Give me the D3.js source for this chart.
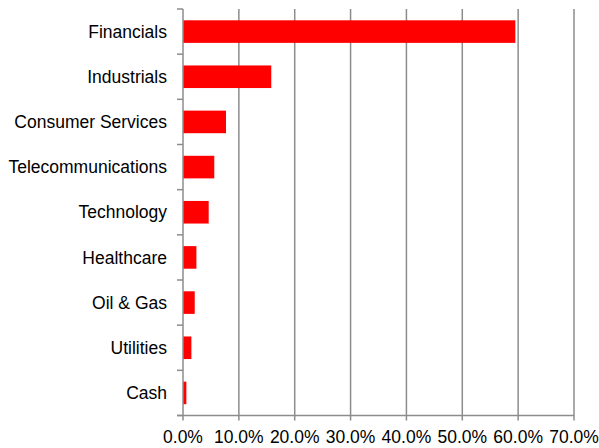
<!DOCTYPE html>
<html lang="en">
<head>
  <meta charset="utf-8">
  <title>Sector allocation</title>
  <script src="https://cdn.jsdelivr.net/npm/d3@7"></script>
  <style>
    body { margin: 0; background: #fff; }
    text { font-family: "Liberation Sans", Arial, sans-serif; fill: #000; }
  </style>
</head>
<body>
  <script>
    // data
    const sectors = ["Financials", "Industrials", "Consumer Services", "Telecommunications",
      "Technology", "Healthcare", "Oil & Gas", "Utilities", "Cash"];
    const weights = [59.5, 15.8, 7.7, 5.6, 4.6, 2.4, 2.1, 1.5, 0.6];
    const xTicks = [0, 10, 20, 30, 40, 50, 60, 70];

    const w = 599, h = 448;
    const plotLeft = 183, plotRight = 574, plotTop = 9, plotBottom = 415.5;

    const svg = d3.select("body").append("svg")
      .attr("width", w)
      .attr("height", h);

    const x = d3.scaleLinear().domain([0, 70]).range([plotLeft, plotRight]);
    const y = d3.scaleBand().domain(sectors).range([plotTop, plotBottom]).paddingInner(0.5).paddingOuter(0.25);

    const gridColor = "#8c8c8c";

    // vertical gridlines
    svg.selectAll("line.grid")
      .data(xTicks.slice(1))
      .enter().append("line")
      .attr("class", "grid")
      .attr("x1", d => x(d)).attr("x2", d => x(d))
      .attr("y1", plotTop).attr("y2", plotBottom + 5)
      .attr("stroke", gridColor)
      .attr("stroke-width", 1.5);

    // bars
    svg.selectAll("rect")
      .data(sectors)
      .enter().append("rect")
      .attr("x", x(0))
      .attr("y", d => y(d))
      .attr("width", (d, i) => x(weights[i]) - x(0))
      .attr("height", y.bandwidth())
      .attr("fill", "#ff0000");

    // left axis line + ticks between categories
    svg.append("line")
      .attr("x1", plotLeft).attr("x2", plotLeft)
      .attr("y1", plotTop).attr("y2", plotBottom)
      .attr("stroke", gridColor).attr("stroke-width", 1.5);

    const step = (plotBottom - plotTop) / sectors.length;
    svg.selectAll("line.ytick")
      .data(d3.range(sectors.length + 1))
      .enter().append("line")
      .attr("class", "ytick")
      .attr("x1", plotLeft - 6).attr("x2", plotLeft)
      .attr("y1", i => plotTop + i * step).attr("y2", i => plotTop + i * step)
      .attr("stroke", gridColor).attr("stroke-width", 1.5);

    // bottom axis line
    svg.append("line")
      .attr("x1", plotLeft - 6).attr("x2", plotRight)
      .attr("y1", plotBottom).attr("y2", plotBottom)
      .attr("stroke", gridColor).attr("stroke-width", 1.5);

    svg.append("line")
      .attr("x1", plotLeft).attr("x2", plotLeft)
      .attr("y1", plotBottom).attr("y2", plotBottom + 5)
      .attr("stroke", gridColor).attr("stroke-width", 1.5);

    // category labels
    svg.selectAll("text.cat")
      .data(sectors)
      .enter().append("text")
      .attr("class", "cat")
      .attr("x", 167)
      .attr("y", d => y(d) + y.bandwidth() / 2)
      .attr("dy", "0.35em")
      .attr("text-anchor", "end")
      .style("font-size", "17.5px")
      .text(d => d);

    // x tick labels
    svg.selectAll("text.xl")
      .data(xTicks)
      .enter().append("text")
      .attr("class", "xl")
      .attr("x", d => x(d))
      .attr("y", 443)
      .attr("text-anchor", "middle")
      .style("font-size", "17.5px")
      .text(d => d3.format(".1f")(d) + "%");
  </script>
</body>
</html>
